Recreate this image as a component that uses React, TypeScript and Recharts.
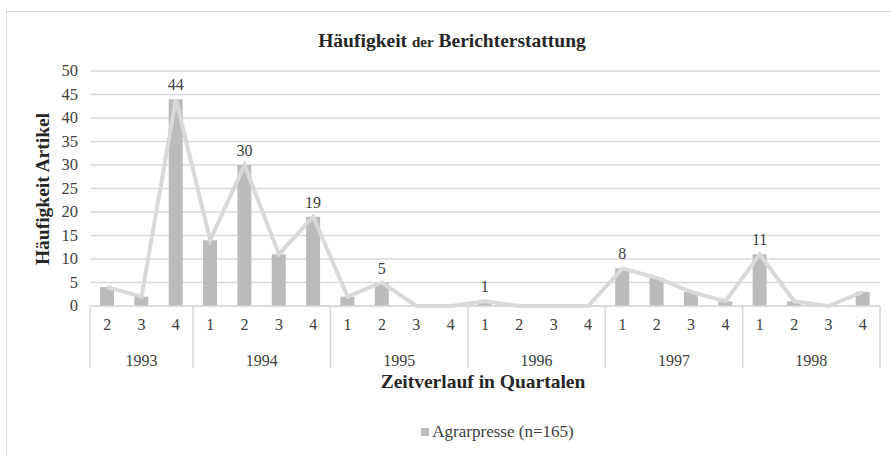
import React from 'react'
import {
  ComposedChart, Bar, Line, XAxis, YAxis, CartesianGrid, Legend, LabelList
} from 'recharts'

// quarter of each point, 1993 Q2 .. 1998 Q4
const quarters = ['2', '3', '4', '1', '2', '3', '4', '1', '2', '3', '4', '1', '2', '3', '4', '1', '2', '3', '4', '1', '2', '3', '4']
const years = [1993, 1993, 1993, 1994, 1994, 1994, 1994, 1995, 1995, 1995, 1995, 1996, 1996, 1996, 1996, 1997, 1997, 1997, 1997, 1998, 1998, 1998, 1998]
const counts = [4, 2, 44, 14, 30, 11, 19, 2, 5, 0, 0, 1, 0, 0, 0, 8, 6, 3, 1, 11, 1, 0, 3]
// only these values carry a label in the original
const pointLabels = ['', '', '44', '', '30', '', '19', '', '5', '', '', '1', '', '', '', '8', '', '', '', '11', '', '', '']
const yTicks = [0, 5, 10, 15, 20, 25, 30, 35, 40, 45, 50]

const seriesName = 'Agrarpresse (n=165)'
const FONT = '"Liberation Serif", "Times New Roman", serif'
const TEXT = '#404040'
const GRID = '#d9d9d9'

const data = counts.map((v, i) => ({
  idx: i,
  q: quarters[i],
  year: years[i],
  value: v,
  label: pointLabels[i],
}))

const AXIS_Y = 306
const SEP_BOTTOM = 368

function QuarterTick(props: any) {
  const { x, payload } = props
  const i = payload.value as number
  const off = payload.offset ?? 17.2
  const yr = years[i]
  const first = i === 0 || years[i - 1] !== yr
  const last = i === years.length - 1
  const n = years.filter((v) => v === yr).length
  return (
    <g>
      <text x={x} y={AXIS_Y + 24} textAnchor="middle" fontSize={16} fill={TEXT} style={{ fontFamily: FONT }}>
        {quarters[i]}
      </text>
      {first && (
        <>
          <line x1={x - off} x2={x - off} y1={AXIS_Y} y2={SEP_BOTTOM} stroke={GRID} strokeWidth={1.5} />
          <text x={x + (n - 1) * off} y={AXIS_Y + 60} textAnchor="middle" fontSize={16} fill={TEXT} style={{ fontFamily: FONT }}>
            {yr}
          </text>
        </>
      )}
      {last && <line x1={x + off} x2={x + off} y1={AXIS_Y} y2={SEP_BOTTOM} stroke={GRID} strokeWidth={1.5} />}
    </g>
  )
}

function YTick(props: any) {
  const { x, y, payload } = props
  return (
    <text x={x} y={y + 5} textAnchor="end" fontSize={16.5} fill={TEXT} style={{ fontFamily: FONT }}>
      {payload.value}
    </text>
  )
}

function PointLabel(props: any) {
  const { x, y, width, value } = props
  if (!value) return null
  return (
    <text x={x + width / 2} y={y - 9} textAnchor="middle" fontSize={16} fill={TEXT} style={{ fontFamily: FONT }}>
      {value}
    </text>
  )
}

function LegendContent(props: any) {
  const items = (props.payload || []).filter((p: any) => p.type !== 'none')
  return (
    <div style={{ display: 'flex', justifyContent: 'center', height: 18, lineHeight: '18px', fontFamily: FONT, fontSize: 17, color: TEXT }}>
      {items.map((p: any) => (
        <span key={p.value} style={{ display: 'flex', alignItems: 'center' }}>
          <span style={{ width: 8, height: 8, background: p.color, marginRight: 3, display: 'inline-block' }} />
          {p.value}
        </span>
      ))}
    </div>
  )
}

export default function App() {
  return (
    <div style={{ position: 'absolute', left: 0, top: 0, width: 891, height: 456, background: '#fff', fontFamily: FONT }}>
      <div style={{ position: 'absolute', left: 6, top: 11, right: 0, bottom: 0, borderTop: `1.5px solid ${GRID}`, borderLeft: `1.5px solid ${GRID}` }} />
      <div style={{ position: 'absolute', left: 0, width: 904, top: 30, textAlign: 'center', fontWeight: 'bold', fontSize: 19.5, color: '#262626' }}>
        Häufigkeit <span style={{ fontSize: 15 }}>der</span> Berichterstattung
      </div>
      <ComposedChart
        width={891}
        height={456}
        data={data}
        margin={{ top: 71, right: 11, left: 0, bottom: 70 }}
        barCategoryGap={0}
        style={{ fontFamily: FONT }}
      >
        <CartesianGrid vertical={false} stroke={GRID} strokeWidth={1.5} />
        <XAxis
          dataKey="idx"
          type="category"
          height={62}
          axisLine={{ stroke: GRID, strokeWidth: 1.5 }}
          tickLine={false}
          interval={0}
          tick={<QuarterTick />}
        />
        <YAxis
          width={90}
          domain={[0, 50]}
          ticks={yTicks}
          interval={0}
          axisLine={false}
          tickLine={false}
          tickSize={0}
          tickMargin={12}
          tick={<YTick />}
        />
        <Legend
          verticalAlign="bottom"
          wrapperStyle={{ position: 'absolute', top: 423, left: 52, width: 891 }}
          content={<LegendContent />}
        />
        <Bar dataKey="value" name={seriesName} fill="#bbbbbb" barSize={14} isAnimationActive={false}>
          <LabelList dataKey="label" content={<PointLabel />} />
        </Bar>
        <Line
          dataKey="value"
          type="linear"
          stroke="#d9d9d9"
          strokeWidth={4}
          dot={false}
          activeDot={false}
          legendType="none"
          isAnimationActive={false}
        />
      </ComposedChart>
      <div style={{ position: 'absolute', left: 0, width: 966, top: 371, textAlign: 'center', fontWeight: 'bold', fontSize: 19.5, color: '#262626' }}>
        Zeitverlauf in Quartalen
      </div>
      <div
        style={{
          position: 'absolute', left: 43, top: 189, transform: 'translate(-50%, -50%) rotate(-90deg)',
          whiteSpace: 'nowrap', fontWeight: 'bold', fontSize: 19.5, color: '#262626',
        }}
      >
        Häufigkeit Artikel
      </div>
    </div>
  )
}
